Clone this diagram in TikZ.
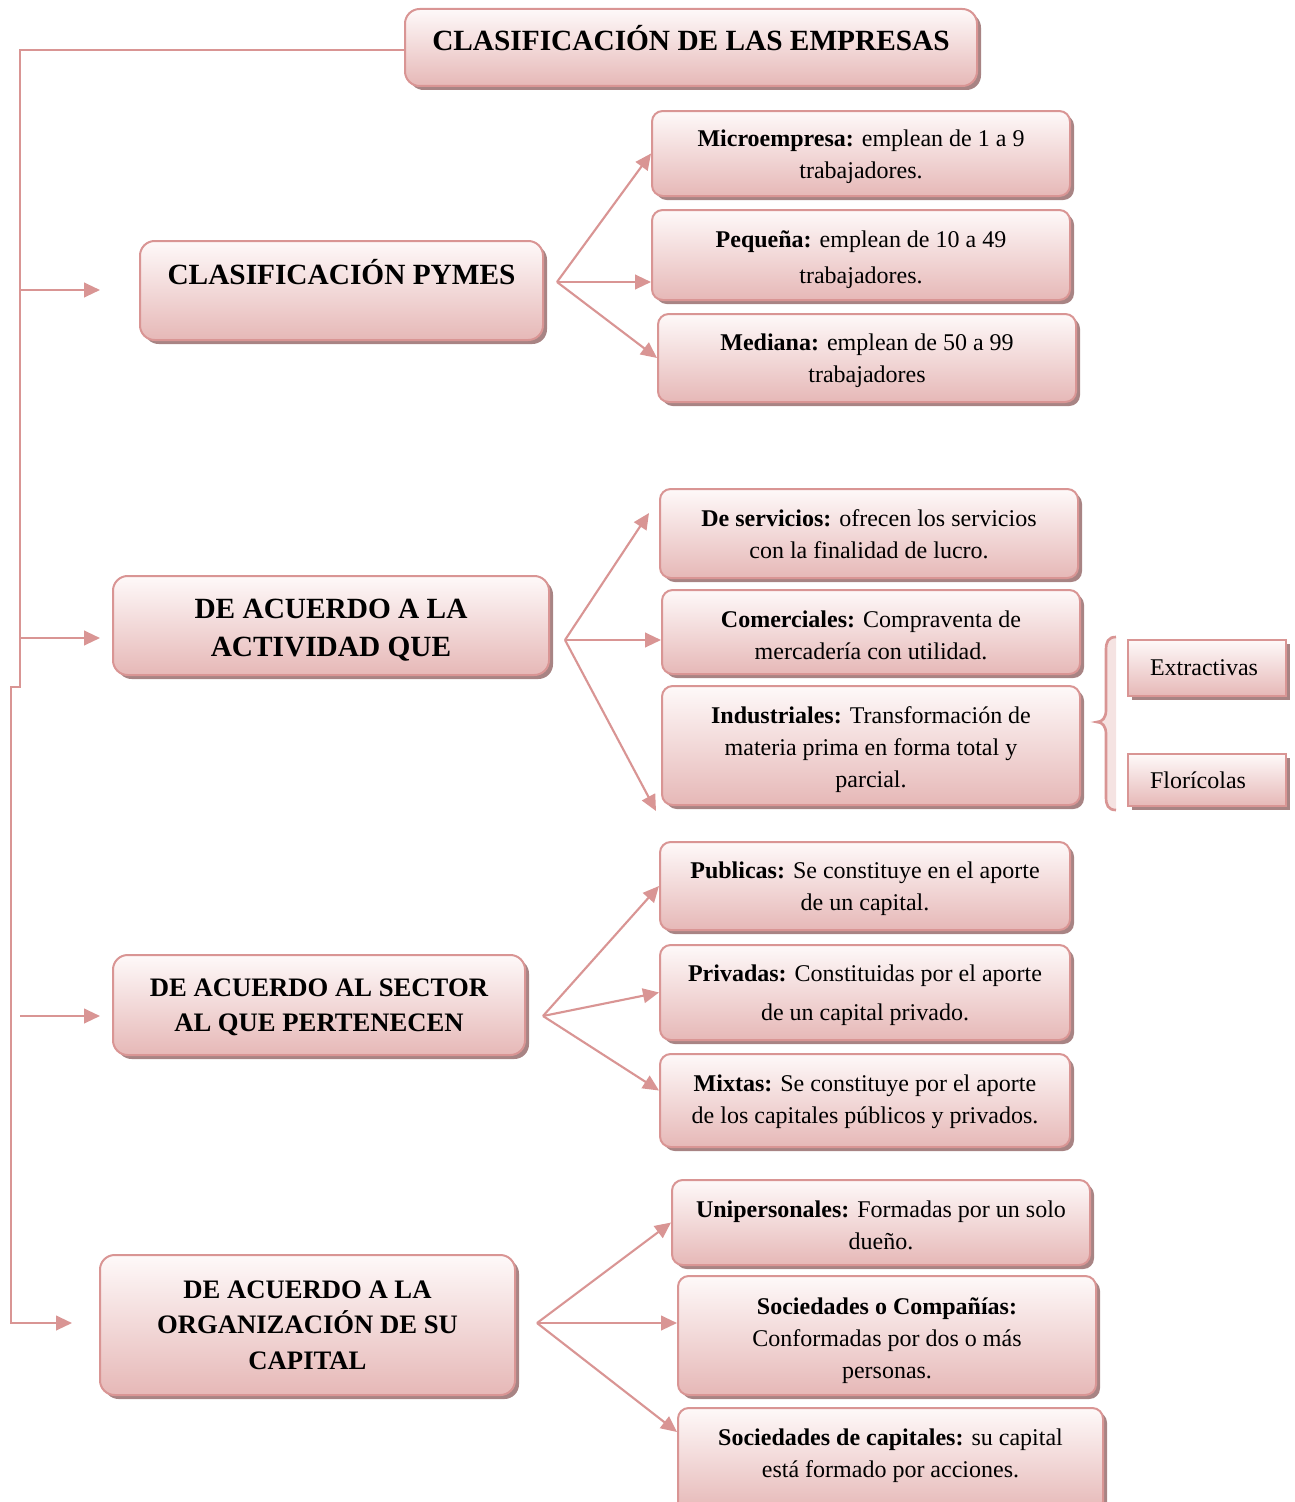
\documentclass[tikz,border=0pt]{standalone}
\usepackage{fontspec}
\setmainfont{Liberation Serif}
\usetikzlibrary{arrows.meta,shadows,calc}
\definecolor{pline}{RGB}{217,149,148}
\definecolor{pfill}{RGB}{230,184,183}
\definecolor{ptop}{RGB}{254,249,249}
\definecolor{pshadow}{RGB}{168,132,132}
\newcommand\fl[1]{\rule{0pt}{#1}}
\begin{document}
\begin{tikzpicture}[x=0.75pt,y=-0.75pt,
  bx/.style={draw=pline, line width=1.5pt, top color=ptop, bottom color=pfill,
    align=center, inner sep=0pt,
    drop shadow={shadow xshift=3pt, shadow yshift=-3pt, fill=pshadow, opacity=1}},
  bigbox/.style={bx, rounded corners=11pt, font=\bfseries\fontsize{22}{28.5}\selectfont},
  midbox/.style={bx, rounded corners=11pt, font=\bfseries\fontsize{20}{26.5}\selectfont},
  smallbox/.style={bx, rounded corners=8pt, font=\fontsize{18}{24}\selectfont},
  sqbox/.style={bx, rounded corners=0pt, font=\fontsize{18}{24}\selectfont,
    text width=85.5pt, inner xsep=16.5pt, align=left},
  con/.style={draw=pline, line width=1.6pt, line join=miter},
  arr/.style={con, -{Triangle[length=12pt,width=11pt]}},
]
\useasboundingbox (0,0) rectangle (1295,1502);

% main boxes
\node[bigbox, minimum width=429pt, minimum height=57.75pt, text depth=15pt] (title) at (691,47.5)
  {CLASIFICACIÓN DE LAS EMPRESAS};
\node[bigbox, minimum width=302.25pt, minimum height=74.25pt, text depth=28.5pt] (pymes) at (341.5,290.5)
  {CLASIFICACIÓN PYMES};
\node[bigbox, minimum width=327pt, minimum height=74.25pt] (act) at (331,625.5)
  {\fl{22pt}DE ACUERDO A LA\\ACTIVIDAD QUE};
\node[midbox, minimum width=309pt, minimum height=75pt] (sector) at (319,1005)
  {\fl{16.5pt}DE ACUERDO AL SECTOR\\AL QUE PERTENECEN};
\node[midbox, minimum width=311.25pt, minimum height=105pt] (org) at (307.5,1325)
  {DE ACUERDO A LA\\ORGANIZACIÓN DE SU\\CAPITAL};

% PYMES
\node[smallbox, minimum width=313.5pt, minimum height=63.75pt] (micro) at (861,153.5)
  {\fl{18pt}\textbf{Microempresa:} emplean de 1 a 9\\trabajadores.};
\node[smallbox, minimum width=313.5pt, minimum height=67.5pt] (peq) at (861,255)
  {\fl{19pt}\textbf{Pequeña:} emplean de 10 a 49\\[3pt]trabajadores.};
\node[smallbox, minimum width=313.5pt, minimum height=66pt] (med) at (867,358)
  {\fl{17pt}\textbf{Mediana:} emplean de 50 a 99\\trabajadores};

% actividad
\node[smallbox, minimum width=313.5pt, minimum height=66.75pt] (serv) at (869,533.5)
  {\fl{14pt}\textbf{De servicios:} ofrecen los servicios\\con la finalidad de lucro.};
\node[smallbox, minimum width=313.5pt, minimum height=63pt] (com) at (871,632)
  {\fl{17pt}\textbf{Comerciales:} Compraventa de\\mercadería con utilidad.};
\node[smallbox, minimum width=313.5pt, minimum height=89.25pt] (ind) at (871,745.5)
  {\fl{19.5pt}\textbf{Industriales:} Transformación de\\materia prima en forma total y\\parcial.};
\node[sqbox, minimum width=118.5pt, minimum height=42pt] (ext) at (1207,668)
  {Extractivas};
\node[sqbox, minimum width=118.5pt, minimum height=39pt] (flor) at (1207,780)
  {Florícolas};
\draw[draw=pline, line width=2pt, fill=pfill!40]
  (1116,637) .. controls (1108,637) and (1106,642) .. (1106,650) -- (1106,710)
  .. controls (1106,718) and (1102,722) .. (1097,722)
  .. controls (1102,722) and (1106,726) .. (1106,734) -- (1106,797)
  .. controls (1106,805) and (1108,810) .. (1116,810);

% sector
\node[smallbox, minimum width=307.5pt, minimum height=66pt] (pub) at (865,886)
  {\fl{17pt}\textbf{Publicas:} Se constituye en el aporte\\de un capital.};
\node[smallbox, minimum width=307.5pt, minimum height=71.25pt] (priv) at (865,992.5)
  {\fl{17pt}\textbf{Privadas:} Constituidas por el aporte\\[5pt]de un capital privado.};
\node[smallbox, minimum width=307.5pt, minimum height=69.75pt] (mix) at (865,1100.5)
  {\fl{14pt}\textbf{Mixtas:} Se constituye por el aporte\\de los capitales públicos y privados.};

% organizacion
\node[smallbox, minimum width=313.5pt, minimum height=63.75pt] (unip) at (881,1222.5)
  {\fl{17pt}\textbf{Unipersonales:} Formadas por un solo\\dueño.};
\node[smallbox, minimum width=313.5pt, minimum height=89.25pt] (socc) at (887,1335.5)
  {\fl{21pt}\textbf{Sociedades o Compañías:}\\Conformadas por dos o más\\personas.};
\node[smallbox, minimum width=318.75pt, minimum height=78pt, text depth=10pt] (sock) at (890.5,1460)
  {\textbf{Sociedades de capitales:} su capital\\está formado por acciones.};

% trunk
\coordinate (t0) at (20,50);
\coordinate (t1) at (20,687);
\coordinate (t2) at (11,687);
\coordinate (t3) at (11,1323);
\coordinate (e4) at (72,1323);
\draw[arr] (title.west |- t0) -- (t0) -- (t1) -- (t2) -- (t3) -- (e4);
\coordinate (s1) at (20,290);  \coordinate (e1) at (100,290);
\coordinate (s2) at (20,638);  \coordinate (e2) at (100,638);
\coordinate (s3) at (20,1016); \coordinate (e3) at (100,1016);
\draw[arr] (s1) -- (e1);
\draw[arr] (s2) -- (e2);
\draw[arr] (s3) -- (e3);

% fans
\coordinate (f1) at (557,282);
\draw[arr] (f1) -- (micro.west);
\draw[arr] (f1) -- (peq.west |- f1);
\draw[arr] (f1) -- (med.west);
\coordinate (f2) at (565,640);
\draw[arr] (f2) -- ($(serv.west)+(-10,-20.5)$);
\draw[arr] (f2) -- (com.west |- f2);
\draw[arr] (f2) -- ($(ind.south west)+(-5,5)$);
\coordinate (f3) at (543,1016);
\draw[arr] (f3) -- (pub.west);
\draw[arr] (f3) -- (priv.west);
\draw[arr] (f3) -- ($(mix.west)+(0,-10)$);
\coordinate (f4) at (537,1323);
\draw[arr] (f4) -- (unip.west);
\draw[arr] (f4) -- (socc.west |- f4);
\draw[arr] (f4) -- ($(sock.west)+(0,-28)$);
\end{tikzpicture}
\end{document}
